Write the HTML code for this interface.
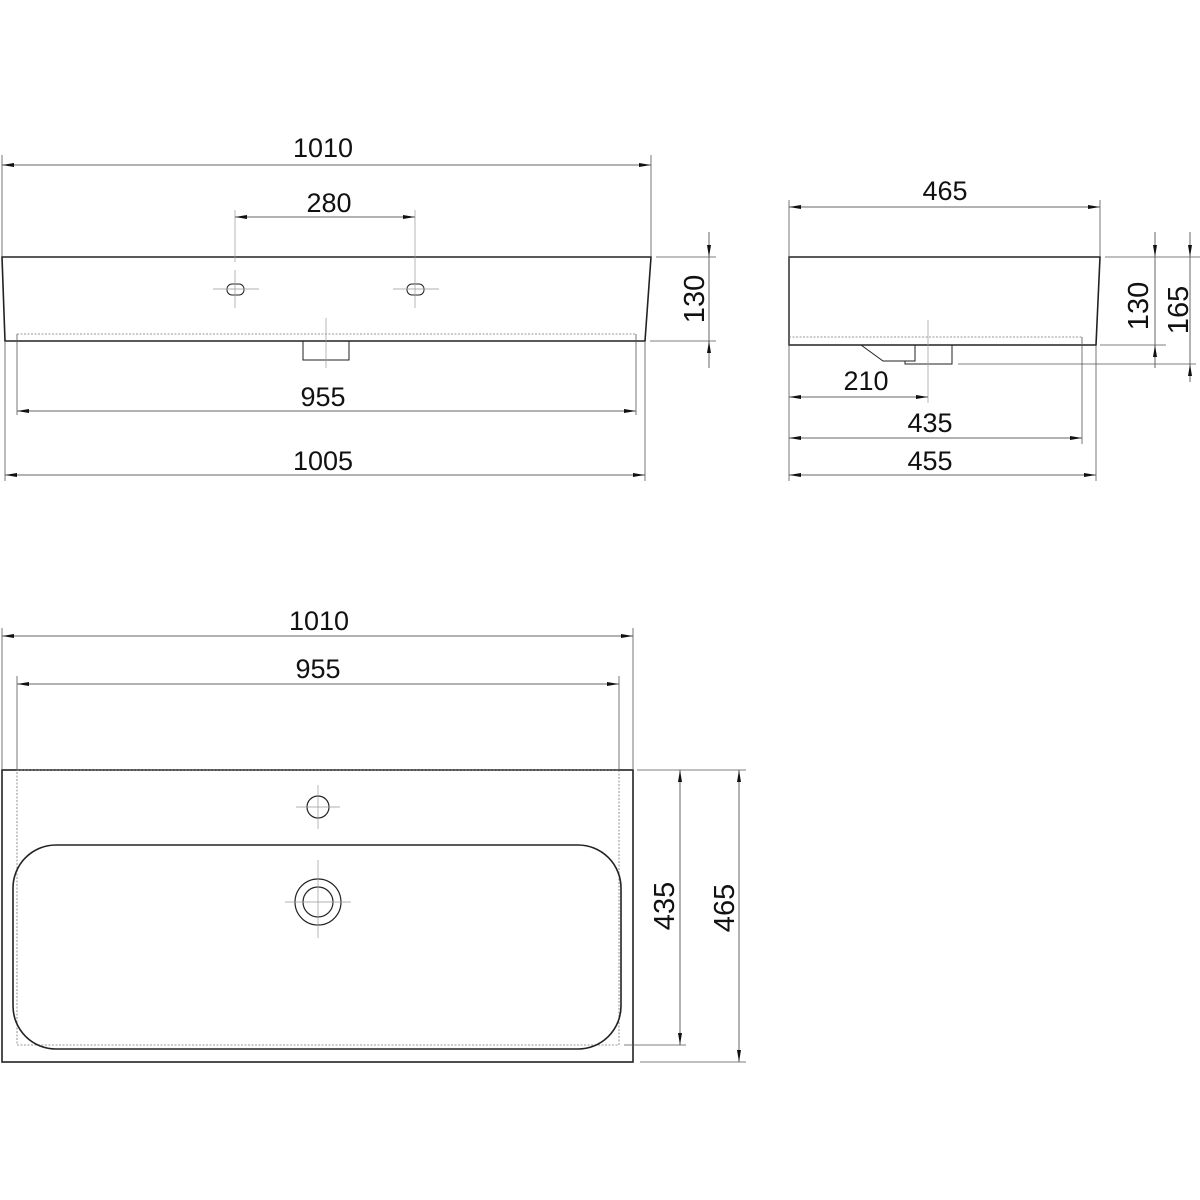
<!DOCTYPE html>
<html><head><meta charset="utf-8"><style>html,body{margin:0;padding:0;background:#fff}svg{display:block}</style></head>
<body>
<svg width="1200" height="1200" viewBox="0 0 1200 1200" xmlns="http://www.w3.org/2000/svg">
<defs>
<marker id="b" viewBox="0 0 12 4" refX="12" refY="2" markerWidth="12" markerHeight="4" markerUnits="userSpaceOnUse" orient="auto-start-reverse"><path d="M0,0 L12,2 L0,4 Z" fill="#111"/></marker>
</defs>
<style>
.o{fill:none;stroke:#222;stroke-width:1.6}
.t{fill:none;stroke:#555;stroke-width:0.8}
.d{fill:none;stroke:#777;stroke-width:0.8;stroke-dasharray:2 1.5}
.c{fill:none;stroke:#999;stroke-width:0.7}
.dm{fill:none;stroke:#666;stroke-width:1}
text{font-family:"Liberation Sans",sans-serif;font-size:27px;fill:#111;text-anchor:middle}
</style>

<!-- FRONT VIEW -->
<polygon class="o" points="2,257 651,257 645,341 5,341"/>
<line class="d" x1="17" y1="334" x2="636" y2="334"/>
<line class="t" x1="17" y1="334" x2="17" y2="415"/>
<line class="t" x1="636" y1="334" x2="636" y2="415"/>
<polyline class="o" style="stroke-width:1" points="303,341 303,360 349,360 349,341"/>
<line class="c" x1="326" y1="318" x2="326" y2="368"/>
<rect class="o" style="stroke-width:1" x="227" y="284" width="17" height="11" rx="5"/>
<rect class="o" style="stroke-width:1" x="407" y="284" width="17" height="11" rx="5"/>
<line class="c" x1="213" y1="289" x2="259" y2="289"/><line class="c" x1="235" y1="270" x2="235" y2="308"/>
<line class="c" x1="393" y1="289" x2="439" y2="289"/>
<line class="c" x1="235" y1="210" x2="235" y2="262"/><line class="c" x1="415" y1="210" x2="415" y2="308"/>

<line class="t" x1="2" y1="155" x2="2" y2="257"/><line class="t" x1="651" y1="155" x2="651" y2="257"/>
<line class="dm" x1="2" y1="165" x2="651" y2="165" marker-start="url(#b)" marker-end="url(#b)"/>
<text x="323" y="157">1010</text>
<line class="dm" x1="235" y1="217" x2="415" y2="217" marker-start="url(#b)" marker-end="url(#b)"/>
<text x="329" y="212">280</text>
<line class="dm" x1="17" y1="411" x2="636" y2="411" marker-start="url(#b)" marker-end="url(#b)"/>
<text x="323" y="406">955</text>
<line class="t" x1="5" y1="341" x2="5" y2="481"/><line class="t" x1="645" y1="341" x2="645" y2="481"/>
<line class="dm" x1="5" y1="475" x2="645" y2="475" marker-start="url(#b)" marker-end="url(#b)"/>
<text x="323" y="470">1005</text>
<line class="t" x1="656" y1="257" x2="716" y2="257"/><line class="t" x1="650" y1="341" x2="716" y2="341"/>
<line class="dm" x1="709" y1="232" x2="709" y2="257" marker-end="url(#b)"/>
<line class="dm" x1="709" y1="368" x2="709" y2="341" marker-end="url(#b)"/>
<line class="dm" x1="709" y1="257" x2="709" y2="341"/>
<text transform="translate(704,299) rotate(-90)" style="font-size:29px">130</text>

<!-- SIDE VIEW -->
<polygon class="o" points="789,257 1100,257 1096,345 789,345"/>
<line class="d" x1="789" y1="337" x2="1082" y2="337"/>
<line class="t" x1="1082" y1="337" x2="1082" y2="444"/>
<polyline class="o" style="stroke-width:1" points="861,345 883,361 915,361 915,345"/>
<polyline class="o" style="stroke-width:1" points="905,361 905,364 952,364 952,345"/>
<line class="c" x1="928" y1="320" x2="928" y2="403"/>
<line class="t" x1="958" y1="364" x2="1196" y2="364"/>
<line class="t" x1="789" y1="200" x2="789" y2="481"/>
<line class="t" x1="1100" y1="200" x2="1100" y2="257"/>
<line class="t" x1="1096" y1="345" x2="1096" y2="481"/>
<line class="dm" x1="789" y1="207" x2="1100" y2="207" marker-start="url(#b)" marker-end="url(#b)"/>
<text x="945" y="200">465</text>
<line class="dm" x1="789" y1="397" x2="928" y2="397" marker-start="url(#b)" marker-end="url(#b)"/>
<text x="866" y="390">210</text>
<line class="dm" x1="789" y1="438" x2="1082" y2="438" marker-start="url(#b)" marker-end="url(#b)"/>
<text x="930" y="432">435</text>
<line class="dm" x1="789" y1="475" x2="1096" y2="475" marker-start="url(#b)" marker-end="url(#b)"/>
<text x="930" y="470">455</text>
<line class="t" x1="1105" y1="257" x2="1200" y2="257"/><line class="t" x1="1100" y1="345" x2="1166" y2="345"/>
<line class="dm" x1="1155" y1="232" x2="1155" y2="257" marker-end="url(#b)"/>
<line class="dm" x1="1155" y1="368" x2="1155" y2="345" marker-end="url(#b)"/>
<line class="dm" x1="1155" y1="257" x2="1155" y2="345"/>
<text transform="translate(1148,306) rotate(-90)" style="font-size:29px">130</text>
<line class="dm" x1="1190" y1="232" x2="1190" y2="257" marker-end="url(#b)"/>
<line class="dm" x1="1190" y1="382" x2="1190" y2="364" marker-end="url(#b)"/>
<line class="dm" x1="1190" y1="257" x2="1190" y2="364"/>
<text transform="translate(1188,310) rotate(-90)" style="font-size:29px">165</text>

<!-- TOP VIEW -->
<rect class="o" x="2" y="770" width="631" height="292"/>
<rect class="d" x="17" y="770" width="602" height="275"/>
<rect class="o" x="13" y="845" width="608" height="204" rx="43"/>
<circle class="o" style="stroke-width:1.2" cx="318" cy="807" r="11"/>
<line class="c" x1="296" y1="807" x2="340" y2="807"/><line class="c" x1="318" y1="785" x2="318" y2="829"/>
<circle class="o" style="stroke-width:1.2" cx="318" cy="902" r="23"/>
<circle class="o" style="stroke-width:1.2" cx="318" cy="902" r="15"/>
<line class="c" x1="285" y1="902" x2="351" y2="902"/><line class="c" x1="318" y1="860" x2="318" y2="938"/>

<line class="t" x1="2" y1="628" x2="2" y2="770"/><line class="t" x1="633" y1="628" x2="633" y2="770"/>
<line class="t" x1="17" y1="676" x2="17" y2="770"/><line class="t" x1="619" y1="676" x2="619" y2="770"/>
<line class="dm" x1="2" y1="636" x2="633" y2="636" marker-start="url(#b)" marker-end="url(#b)"/>
<text x="319" y="630">1010</text>
<line class="dm" x1="17" y1="684" x2="619" y2="684" marker-start="url(#b)" marker-end="url(#b)"/>
<text x="318" y="678">955</text>
<line class="t" x1="637" y1="770" x2="746" y2="770"/>
<line class="t" x1="624" y1="1045" x2="686" y2="1045"/>
<line class="t" x1="640" y1="1062" x2="746" y2="1062"/>
<line class="dm" x1="680" y1="770" x2="680" y2="1045" marker-start="url(#b)" marker-end="url(#b)"/>
<text transform="translate(674,906) rotate(-90)" style="font-size:29px">435</text>
<line class="dm" x1="739" y1="770" x2="739" y2="1062" marker-start="url(#b)" marker-end="url(#b)"/>
<text transform="translate(734,908) rotate(-90)" style="font-size:29px">465</text>
</svg>
</body></html>
